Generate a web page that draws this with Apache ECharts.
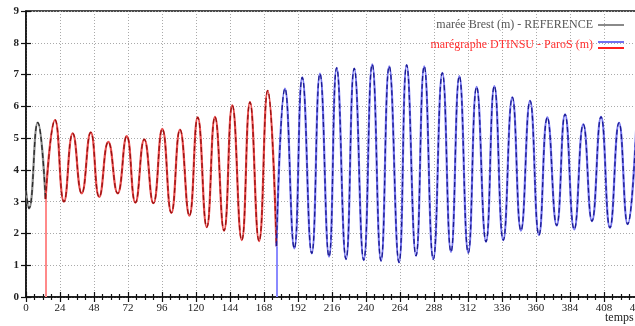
<!DOCTYPE html>
<html><head><meta charset="utf-8">
<script src="https://cdn.jsdelivr.net/npm/echarts@6/dist/echarts.min.js"></script>
<style>html,body{margin:0;padding:0;background:#fff}#c{width:635px;height:326px}</style>
</head><body><div id="c"></div>
<script>
// tide extrema: hour, level (m)
const hours = [0, 2.1, 8.3, 13.8, 20.5, 26.8, 33.0, 39.3, 45.7, 51.7, 58.1, 64.7, 71.1, 77.2, 83.5, 89.9, 96.2, 102.6, 108.7, 115.3, 121.2, 127.6, 133.4, 139.8, 145.6, 152.3, 158.1, 164.5, 170.6, 176.8, 182.8, 189.4, 195.0, 201.7, 207.5, 213.9, 219.3, 225.9, 231.7, 238.4, 244.4, 250.6, 256.4, 263.3, 268.7, 275.3, 281.1, 287.5, 293.9, 300.0, 305.9, 312.2, 318.1, 324.7, 330.6, 336.9, 343.3, 349.4, 355.8, 362.1, 368.0, 374.6, 380.5, 387.0, 393.4, 399.5, 405.9, 412.2, 418.6, 424.7, 431.0];
const levels = [3.35, 2.79, 5.49, 3.08, 5.57, 3.0, 5.15, 3.26, 5.18, 3.15, 4.88, 3.26, 5.06, 2.97, 4.96, 2.95, 5.29, 2.65, 5.27, 2.56, 5.65, 2.2, 5.67, 2.09, 6.03, 1.79, 6.13, 1.76, 6.49, 1.6, 6.56, 1.53, 6.91, 1.37, 7.03, 1.27, 7.21, 1.19, 7.19, 1.16, 7.32, 1.14, 7.26, 1.09, 7.30, 1.30, 7.26, 1.19, 7.05, 1.42, 6.95, 1.39, 6.61, 1.74, 6.64, 1.79, 6.28, 2.09, 6.17, 1.95, 5.65, 2.25, 5.75, 2.13, 5.43, 2.39, 5.67, 2.18, 5.48, 2.29, 5.6];
const redStart = 13.8;   // hour where the ParoS record starts (red part)
const blueStart = 176.8; // hour where the blue part starts
const xTicks = [0, 24, 48, 72, 96, 120, 144, 168, 192, 216, 240, 264, 288, 312, 336, 360, 384, 408, 432];
const yTicks = [0, 1, 2, 3, 4, 5, 6, 7, 8, 9];
const refName = 'marée Brest (m) - REFERENCE';
const parosName = 'marégraphe DTINSU - ParoS (m)';

const pts = hours.map((h, i) => [h, levels[i]]);
const refPts = pts.filter(p => p[0] <= redStart);
const redPts = pts.filter(p => p[0] >= redStart && p[0] <= blueStart);
const bluePts = pts.filter(p => p[0] >= blueStart);
const levelAt = h => levels[hours.indexOf(h)];

const font = 'Liberation Serif';
const chart = echarts.init(document.getElementById('c'));
function under(name, data, color) {
  return {name, type: 'line', data, smooth: 0.5, symbol: 'none', z: 2,
    lineStyle: {color, width: 2.2}, itemStyle: {color}};
}
function over(name, data, color) {
  return {name, type: 'line', data, smooth: 0.5, symbol: 'none', z: 3,
    lineStyle: {color, width: 1.3, type: [5, 3]}, itemStyle: {color}};
}
const axisTxt = {fontFamily: font, fontSize: 11, color: '#222'};
chart.setOption({
  animation: false,
  grid: {left: 26, right: -3, top: 11, bottom: 29, show: true, borderColor: '#111', borderWidth: 1.5,
         outerBoundsMode: 'none', containLabel: false},
  legend: {
    orient: 'vertical', right: 6, top: 14, align: 'right', itemGap: 8, itemWidth: 26, itemHeight: 8,
    textStyle: {fontFamily: font, fontSize: 12},
    data: [
      {name: refName, icon: 'path://M0,3H26V5H0Z', itemStyle: {color: '#8a8a8a'}, textStyle: {color: '#555'}},
      {name: parosName, icon: 'path://M0,0H26V2H0Z M0,6H26V8H0Z',
       itemStyle: {color: new echarts.graphic.LinearGradient(0, 0, 0, 1, [
         {offset: 0, color: '#7070f0'}, {offset: 0.5, color: '#7070f0'},
         {offset: 0.5, color: '#ff2020'}, {offset: 1, color: '#ff2020'}])},
       textStyle: {color: '#ff3030'}}
    ]
  },
  xAxis: [{
    type: 'value', min: xTicks[0], max: xTicks[xTicks.length - 1], interval: 24,
    axisLine: {lineStyle: {color: '#111', width: 1.5}},
    axisTick: {inside: true, length: 5, lineStyle: {color: '#111', width: 1.2}},
    minorTick: {show: true, splitNumber: 4, length: 3, lineStyle: {color: '#111', width: 1.2}},
    axisLabel: Object.assign({margin: 6, showMaxLabel: true, hideOverlap: false}, axisTxt),
    splitLine: {show: true, lineStyle: {color: '#aaa', type: [1, 2], width: 1}}
  }, {
    type: 'value', position: 'top', min: xTicks[0], max: xTicks[xTicks.length - 1], interval: 24,
    axisLine: {show: false},
    axisTick: {inside: true, length: 5, lineStyle: {color: '#111', width: 1.2}},
    minorTick: {show: true, splitNumber: 4, length: 3, lineStyle: {color: '#111', width: 1.2}},
    axisLabel: {show: false}, splitLine: {show: false}
  }],
  yAxis: [{
    type: 'value', min: yTicks[0], max: yTicks[yTicks.length - 1], interval: 1,
    axisLine: {show: true, lineStyle: {color: '#111', width: 1.5}},
    axisTick: {show: true, inside: true, length: 5, lineStyle: {color: '#111', width: 1.2}},
    axisLabel: Object.assign({margin: 7}, axisTxt, {fontWeight: 'bold'}),
    splitLine: {show: true, lineStyle: {color: '#aaa', type: [1, 2], width: 1}}
  }, {
    type: 'value', position: 'right', min: yTicks[0], max: yTicks[yTicks.length - 1], interval: 1,
    axisLine: {show: false},
    axisTick: {show: true, inside: true, length: 5, lineStyle: {color: '#111', width: 1.2}},
    axisLabel: {show: false}, splitLine: {show: false}
  }],
  graphic: [{type: 'text', left: 605, top: 312, style: {text: 'temps (h)', font: '12px "Liberation Serif"', fill: '#222'}}],
  series: [
    under(refName, refPts, '#8a8a8a'),
    over('ref-dash', refPts, '#2a2a2a'),
    Object.assign(under(parosName, redPts, '#e85050'), {
      markLine: {silent: true, symbol: 'none', label: {show: false},
        lineStyle: {color: '#ff8a8a', width: 2, type: 'solid'},
        data: [[{coord: [redStart, 0]}, {coord: [redStart, levelAt(redStart)]}]]}
    }),
    over('red-dash', redPts, '#9a1010'),
    Object.assign(under(parosName, bluePts, '#7878f0'), {
      markLine: {silent: true, symbol: 'none', label: {show: false},
        lineStyle: {color: '#8a8aff', width: 2, type: 'solid'},
        data: [[{coord: [blueStart, 0]}, {coord: [blueStart, levelAt(blueStart)]}]]}
    }),
    over('blue-dash', bluePts, '#1a1a90')
  ]
});
</script></body></html>
